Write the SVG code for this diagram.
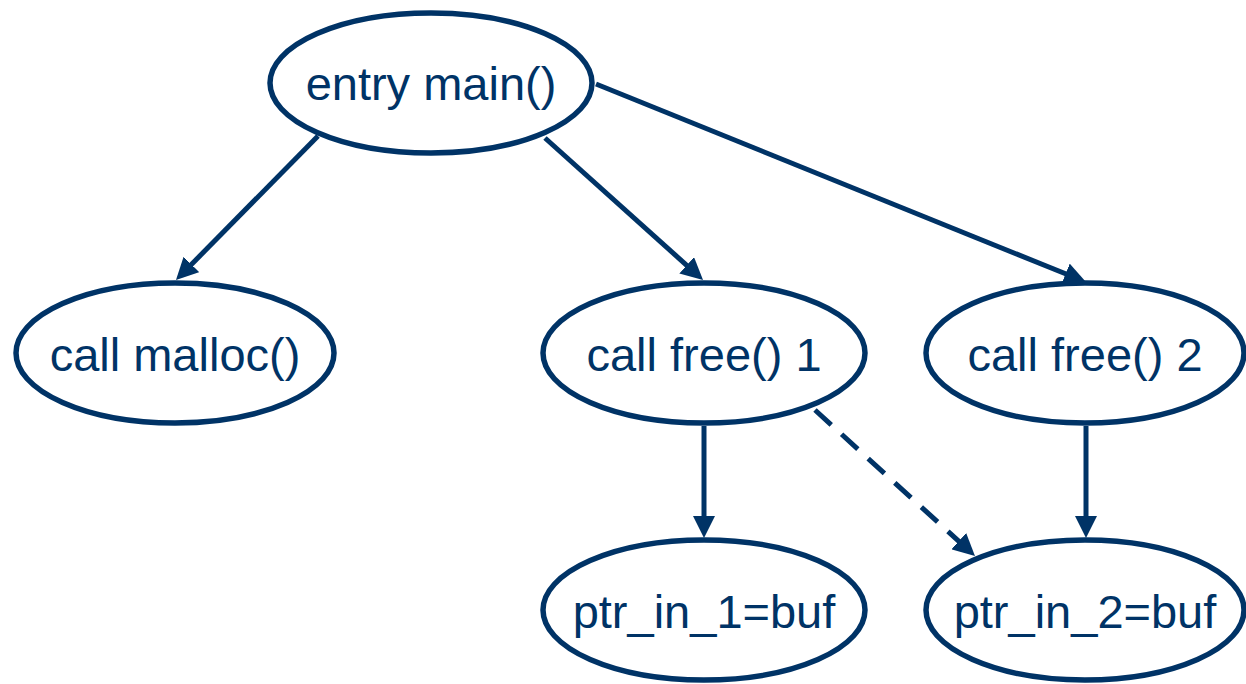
<svg xmlns="http://www.w3.org/2000/svg" width="1246" height="684" viewBox="0 0 1246 684">
  <style>
    .node ellipse { fill: #ffffff; stroke: #003366; stroke-width: 5.5; }
    .node text { font-family: "Liberation Sans", Arial, sans-serif; font-size: 47px; fill: #003366; text-anchor: middle; }
    .edge { stroke: #003366; stroke-width: 5; fill: none; marker-end: url(#arrow); }
    .dashed { stroke-dasharray: 22 14; }
  </style>
  <defs>
    <marker id="arrow" markerUnits="userSpaceOnUse" markerWidth="24" markerHeight="22" viewBox="0 0 24 22" refX="12" refY="11" orient="auto">
      <path d="M0,0 L22,11 L0,22 Z" fill="#003366"/>
    </marker>
  </defs>
  <rect width="1246" height="684" fill="#ffffff"/>

  <g id="connectors">
    <line class="edge" x1="318" y1="136" x2="183" y2="273"/>
    <line class="edge" x1="545" y1="138" x2="695.6" y2="273.3"/>
    <line class="edge" x1="596" y1="84" x2="1076.7" y2="278.3"/>
    <line class="edge" x1="704" y1="426" x2="704" y2="528"/>
    <line class="edge" x1="1086" y1="426" x2="1086" y2="528"/>
    <line class="edge dashed" x1="815" y1="410" x2="967.6" y2="549.3"/>
  </g>

  <g id="entry-main" class="node">
    <ellipse cx="431" cy="83" rx="161" ry="70"/>
    <text x="431" y="100">entry main()</text>
  </g>
  <g id="call-malloc" class="node">
    <ellipse cx="175" cy="353" rx="159" ry="70"/>
    <text x="175" y="371">call malloc()</text>
  </g>
  <g id="call-free-1" class="node">
    <ellipse cx="704" cy="353" rx="161" ry="70"/>
    <text x="704" y="371">call free() 1</text>
  </g>
  <g id="call-free-2" class="node">
    <ellipse cx="1085" cy="353" rx="159" ry="70"/>
    <text x="1085" y="371">call free() 2</text>
  </g>
  <g id="ptr-in-1" class="node">
    <ellipse cx="704" cy="610" rx="161" ry="70"/>
    <text x="704" y="628">ptr_in_1=buf</text>
  </g>
  <g id="ptr-in-2" class="node">
    <ellipse cx="1085" cy="610" rx="159" ry="70"/>
    <text x="1085" y="628">ptr_in_2=buf</text>
  </g>
</svg>
